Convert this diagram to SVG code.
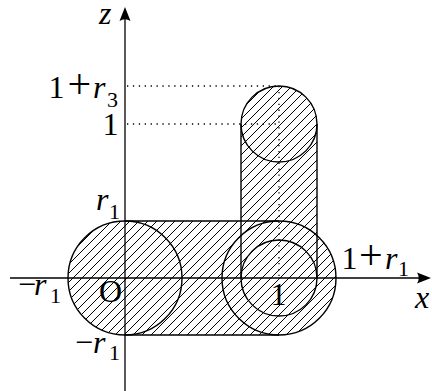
<svg xmlns="http://www.w3.org/2000/svg" width="432" height="391" viewBox="0 0 432 391">
<defs>
<pattern id="hatch" patternUnits="userSpaceOnUse" x="0" y="0" width="9" height="9">
<path d="M0,9 L9,0 M-1,1 L1,-1 M8,10 L10,8" stroke="#000" stroke-width="1.1" fill="none" shape-rendering="crispEdges"/>
</pattern>
<style>
.out{fill:none;stroke:#000;stroke-width:1.4}
.ax{fill:none;stroke:#000;stroke-width:1.3}
.dot{fill:none;stroke:#000;stroke-width:1.3;stroke-dasharray:1.3 4.6}
text{font-family:"Liberation Serif","DejaVu Serif",serif;font-size:32px;fill:#000}
.i{font-style:italic}
.s{font-size:22px}
.p{font-size:42px}
</style>
</defs>
<rect width="432" height="391" fill="#fff"/>
<g id="hatched" fill="url(#hatch)" stroke="none">
<circle cx="125" cy="278" r="57"/>
<rect x="125" y="221" width="154" height="114"/>
<circle cx="279" cy="278" r="57"/>
<rect x="241" y="124" width="76" height="154"/>
<circle cx="279" cy="124" r="38"/>
</g>
<g id="dotted">
<line class="dot" x1="127" y1="86" x2="279" y2="86"/>
<line class="dot" x1="127" y1="124" x2="279" y2="124"/>
<line class="dot" x1="279" y1="86" x2="279" y2="278"/>
</g>
<g id="outlines">
<circle class="out" cx="125" cy="278" r="57"/>
<line class="out" x1="125" y1="221" x2="279" y2="221"/>
<line class="out" x1="125" y1="335" x2="279" y2="335"/>
<circle class="out" cx="279" cy="278" r="57"/>
<circle class="out" cx="279" cy="278" r="38"/>
<line class="out" x1="241" y1="124" x2="241" y2="278"/>
<line class="out" x1="317" y1="124" x2="317" y2="278"/>
<circle class="out" cx="279" cy="124" r="38"/>
</g>
<g id="axes">
<line class="ax" x1="10" y1="278" x2="424" y2="278"/>
<line class="ax" x1="125" y1="391" x2="125" y2="14"/>
<path d="M431,278 L417,272.5 Q420.5,278 417,283.5 Z" fill="#000"/>
<path d="M125,7 L119.5,21 Q125,17.5 130.5,21 Z" fill="#000"/>
</g>
<g id="labels">
<text class="i" x="99" y="24">z</text>
<text class="i" x="415" y="308">x</text>
<text x="48.5" y="98">1</text>
<text class="p" x="67.5" y="98">+</text>
<text class="i" x="93" y="98">r</text>
<text class="s" x="107" y="107">3</text>
<text x="102.5" y="135">1</text>
<text class="i" x="96" y="210">r</text>
<text class="s" x="109" y="219">1</text>
<text x="18" y="295">−</text>
<text class="i" x="34" y="295">r</text>
<text class="s" x="50" y="303">1</text>
<text x="99" y="302">O</text>
<text x="75" y="353">−</text>
<text class="i" x="93" y="353">r</text>
<text class="s" x="109" y="360">1</text>
<text x="270.5" y="305">1</text>
<text x="341.5" y="269">1</text>
<text class="p" x="359" y="269">+</text>
<text class="i" x="385" y="269">r</text>
<text class="s" x="398" y="276">1</text>
</g>
</svg>
